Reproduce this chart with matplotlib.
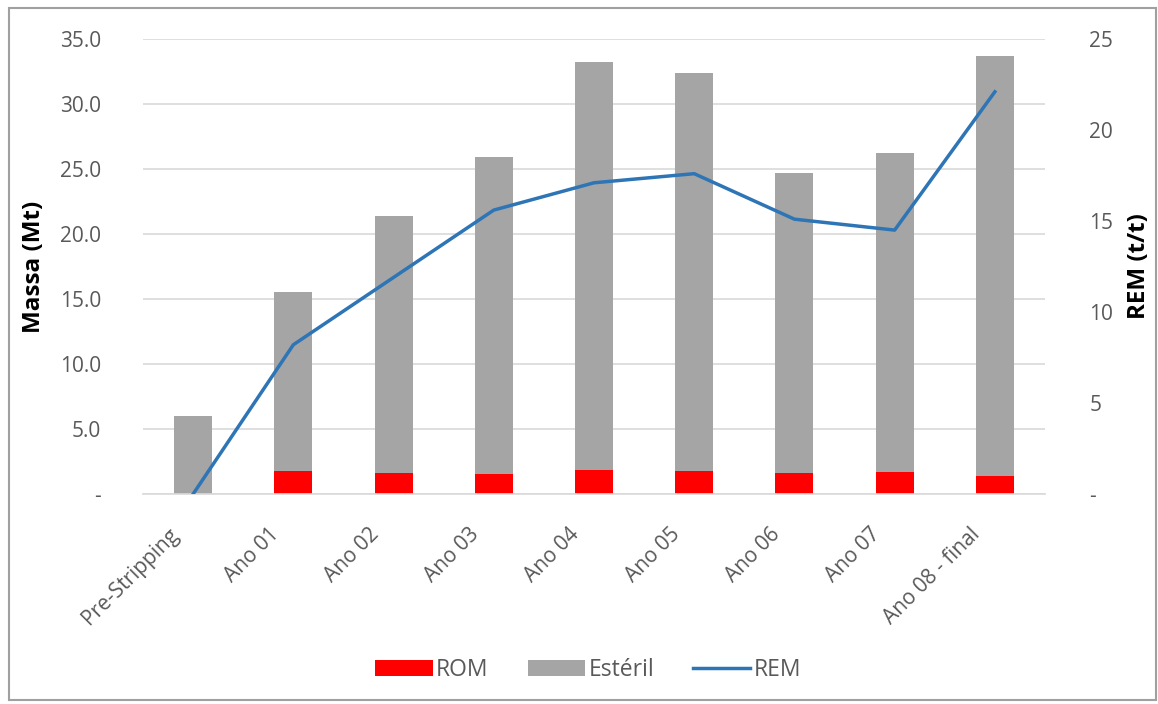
import matplotlib
matplotlib.use("Agg")
import matplotlib.pyplot as plt
from matplotlib.patches import Rectangle
from matplotlib.ticker import FixedLocator, FuncFormatter
from matplotlib.transforms import ScaledTranslation

categories = ["Pre-Stripping", "Ano 01", "Ano 02", "Ano 03", "Ano 04",
              "Ano 05", "Ano 06", "Ano 07", "Ano 08 - final"]
rom = [0.0, 1.8, 1.6, 1.5, 1.85, 1.75, 1.6, 1.7, 1.4]
total = [6.0, 15.5, 21.4, 25.9, 33.2, 32.4, 24.7, 26.2, 33.7]
esteril = [t - r for t, r in zip(total, rom)]
rem = [0.0, 8.2, 11.9, 15.6, 17.1, 17.6, 15.1, 14.5, 22.1]

plt.rcParams['font.family'] = ['Open Sans', 'DejaVu Sans']
txt = '#595959'

fig = plt.figure(figsize=(11.58, 7.04), dpi=100)
ax = fig.add_axes([0.1235, 0.2983, 0.7789, 0.6463])
ax2 = ax.twinx()

x = list(range(len(categories)))
b1 = ax.bar(x, rom, width=0.38, color='#FF0000', label='ROM', zorder=2)
b2 = ax.bar(x, esteril, width=0.38, bottom=rom, color='#A5A5A5', label='Estéril', zorder=2)
l1, = ax2.plot(x, rem, color='#2E75B6', lw=2.5, solid_joinstyle='round', label='REM', zorder=3)

ax.set_xlim(-0.5, len(categories) - 0.5)
ax.set_ylim(0, 35)
ax2.set_ylim(0, 25)
ax.yaxis.set_major_locator(FixedLocator([0, 5, 10, 15, 20, 25, 30, 35]))
ax2.yaxis.set_major_locator(FixedLocator([0, 5, 10, 15, 20, 25]))
ax.yaxis.set_major_formatter(FuncFormatter(lambda v, p: '-' if v == 0 else f'{v:.1f}'))
ax2.yaxis.set_major_formatter(FuncFormatter(lambda v, p: '-' if v == 0 else f'{v:.0f}'))

ax.grid(axis='y', color='#D9D9D9', lw=1.2, zorder=0)
ax.set_axisbelow(True)
for a in (ax, ax2):
    for s in a.spines.values():
        s.set_visible(False)
ax.spines['bottom'].set_visible(True)
ax.spines['bottom'].set_color('#D9D9D9')
ax.spines['bottom'].set_linewidth(1.2)

ax.tick_params(axis='y', length=0, pad=30, labelsize=15, labelcolor=txt)
ax2.tick_params(axis='y', length=0, pad=32, labelsize=15, labelcolor=txt)
ax.tick_params(axis='x', length=0, pad=10, labelsize=15, labelcolor=txt)
ax.set_xticks(x)
ax.set_xticklabels(categories, rotation=45, ha='right', va='top', rotation_mode='anchor')
off = ScaledTranslation(-25 / 100, -16 / 100, fig.dpi_scale_trans)
for lab in ax.get_xticklabels():
    lab.set_transform(lab.get_transform() + off)

ax.set_ylabel('Massa (Mt)', fontsize=17.5, fontweight='bold', color='black', labelpad=10)
ax2.set_ylabel('REM (t/t)', fontsize=17.5, fontweight='bold', color='black', labelpad=10)

fig.legend(handles=[b1, b2, l1], labels=['ROM', 'Estéril', 'REM'],
           loc='center', bbox_to_anchor=(0.508, 0.048), ncol=3, frameon=False,
           fontsize=16.5, labelcolor=txt, handlelength=2.5, handleheight=0.7,
           handletextpad=0.15, columnspacing=1.7)

fig.patches.append(Rectangle((0.008, 0.006), 0.99, 0.982, transform=fig.transFigure,
                             fill=False, edgecolor='#A0A0A0', lw=1.5))

fig.savefig('out.png', dpi=100)
